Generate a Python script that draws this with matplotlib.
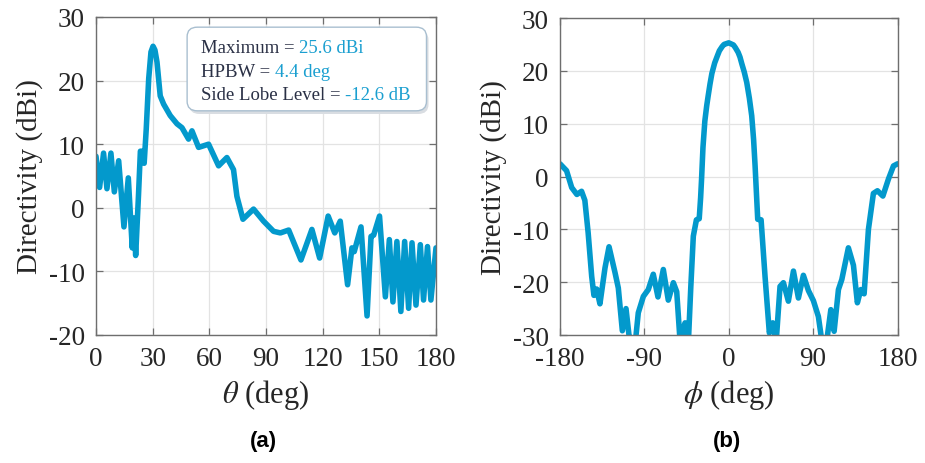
import matplotlib
matplotlib.use("Agg")
import matplotlib.pyplot as plt
from matplotlib.patches import FancyBboxPatch
from matplotlib.ticker import FuncFormatter

# ---------------- data ----------------
theta_a = [0, 1.9, 4, 5.8, 7.9, 9.7, 12, 14.8, 17.1, 19.2, 20.1, 21, 22.5, 23.5, 24.5,
           25.5, 26.6, 27.9, 29.1, 30.2, 31.2, 32.3, 34, 35.8, 39.3, 42.9, 45.5, 49,
           50.8, 54.3, 59.6, 64.9, 69.3, 72.8, 74.6, 77.8, 83.4, 88.7, 94, 97.6, 102,
           108.5, 114.3, 118.4, 122.9, 126.4, 129.3, 133.2, 135.5, 136.7, 140.3, 143.5,
           145.6, 147, 150.1, 153.2, 155.3, 157.2, 159.3, 161.4, 163.4, 165.5, 167.3,
           169.4, 171.7, 173.4, 175.5, 177.3, 180]
dir_a = [8.1, 3.2, 8.6, 3.0, 8.6, 2.5, 7.4, -3.0, 4.7, -6.3, -1.6, -7.5, 2.0, 8.9, 8.9,
         7.0, 12.4, 20.3, 24.5, 25.4, 24.8, 22.9, 17.6, 16.3, 14.5, 13.2, 12.6, 10.8,
         12.1, 9.5, 10.0, 6.6, 7.9, 6.0, 1.8, -1.8, -0.2, -2.1, -3.7, -3.95, -3.5,
         -8.2, -3.4, -7.9, -1.3, -3.95, -2.1, -12.1, -6.3, -6.9, -3.0, -17.0,
         -4.5, -4.3, -1.3, -14.0, -5.0, -14.8, -5.3, -16.3, -5.3, -15.8, -5.5,
         -15.3, -5.8, -14.5, -6.1, -14.5, -6.3]

phi_b = [-180, -173, -167.5, -162, -157, -153.5, -150, -146.2, -143.8, -140.9, -137.4,
         -132, -127.7, -121.3, -117.8, -113.5, -109.6, -106.5, -103, -100, -96.5, -91.1,
         -85.8, -80.5, -75.5, -69.8, -64.5, -59.1, -55.5, -52, -50.2, -46.6, -43.1,
         -40.5, -37.8, -34.5, -31.5, -30, -29, -27.5, -25.5, -23.5, -22, -20, -18, -15,
         -12, -10, -7, -5, 0, 5, 7, 10, 12, 14, 16.5, 19.2, 22, 24.5, 26.5, 28.1, 30.9,
         34.5, 38.7, 43.3, 47, 50.5, 54.7, 58.3,
         63.6, 69, 74.3, 79.6, 85, 90.3, 95.6, 99.2, 104.6, 108.9, 112.4, 117, 120.6,
         127.6, 133, 137.2, 140.9, 144.4, 149, 154.3, 158.6, 164.4, 170.3, 175.7, 180]
dir_b = [2.4, 1.1, -2.1, -3.4, -2.8, -4.5, -10.6, -18.9, -22.5, -21.3, -24.1,
         -17.3, -13.3, -18.2, -21.1, -29.2, -25.0, -29.9, -32, -32, -25.8, -22.7,
         -21.4, -18.5, -22.8, -17.6, -23.4, -20.1, -21.8, -31, -29.6, -27.7, -31.5,
         -21, -11.3, -8.2, -8.0, -4, -0.5, 5.5, 10.5, 13.4, 15.2, 17.5, 19.5, 21.5,
         22.9, 23.8, 24.6, 25, 25.3, 24.9, 24.4, 23.5, 22.6, 21.3, 19.8, 17.8, 14.8,
         11.5, 7.0, 2, -8.1, -8.2, -18.9, -29.6, -27.7, -31.5,
         -20.8, -20.1, -23.6, -17.9, -23, -18.7, -21.6, -23.5, -26.5, -31, -31,
         -25.2, -29.3, -21.4, -19.5, -13.5, -16.8, -23.9, -21.4, -22.2, -10, -3.2,
         -2.7, -3.7, -0.5, 2.0, 2.4]

xticks_a = [0, 30, 60, 90, 120, 150, 180]
yticks_a = [-20, -10, 0, 10, 20, 30]
xticks_b = [-180, -90, 0, 90, 180]
yticks_b = [-30, -20, -10, 0, 10, 20, 30]

info_labels = ["Maximum = ", "HPBW = ", "Side Lobe Level = "]
info_values = ["25.6 dBi", "4.4 deg", "-12.6 dB"]

# ---------------- style ----------------
plt.rcParams['font.family'] = ['Liberation Serif', 'DejaVu Serif']
plt.rcParams['mathtext.fontset'] = 'stix'

LINE = '#0399CC'
TXT = '#262626'
W, H = 925, 464
fig = plt.figure(figsize=(W / 100, H / 100), dpi=100)

def px_axes(x0, x1, y0, y1):
    return fig.add_axes([x0 / W, 1 - y1 / H, (x1 - x0) / W, (y1 - y0) / H])

ax1 = px_axes(96, 436, 18, 336)
ax2 = px_axes(560, 897.5, 19, 336)

fmt = FuncFormatter(lambda v, p: f"{v:g}".replace('\u2212', '-'))

for ax in (ax1, ax2):
    ax.grid(True, color='#e3e3e3', lw=0.9)
    ax.set_axisbelow(True)
    for s in ax.spines.values():
        s.set_color('#6e6e6e')
        s.set_linewidth(1.0)
    ax.tick_params(direction='in', top=True, right=True, length=5, width=0.9,
                   color='#6e6e6e', labelsize=19.5, labelcolor=TXT, pad=8)
    ax.xaxis.set_major_formatter(fmt)
    ax.yaxis.set_major_formatter(fmt)

ax1.plot(theta_a, dir_a, color=LINE, lw=4.0, solid_joinstyle='round',
         solid_capstyle='round')
ax1.set_xlim(0, 180)
ax1.set_ylim(-20, 30)
ax1.set_xticks(xticks_a)
ax1.set_yticks(yticks_a)
ax1.set_xlabel(r"$\theta$ (deg)", fontsize=22, color=TXT, labelpad=4)
ax1.set_ylabel("Directivity (dBi)", fontsize=21, color=TXT, labelpad=4)

ax2.plot(phi_b, dir_b, color=LINE, lw=4.0, solid_joinstyle='round',
         solid_capstyle='round')
ax2.set_xlim(-180, 180)
ax2.set_ylim(-30, 30)
ax2.set_xticks(xticks_b)
ax2.set_yticks(yticks_b)
ax2.set_xlabel(r"$\phi$ (deg)", fontsize=22, color=TXT, labelpad=4)
ax2.set_ylabel("Directivity (dBi)", fontsize=21, color=TXT, labelpad=4)

# info box
bx0, bx1 = 0.268, 0.972
by0, by1 = 0.705, 0.968
shadow = FancyBboxPatch((bx0 + 0.006, by0 - 0.01), bx1 - bx0, by1 - by0,
                        boxstyle="round,pad=0,rounding_size=0.03",
                        transform=ax1.transAxes, facecolor='#d9dde2',
                        edgecolor='none', zorder=4)
box = FancyBboxPatch((bx0, by0), bx1 - bx0, by1 - by0,
                     boxstyle="round,pad=0,rounding_size=0.03",
                     transform=ax1.transAxes, facecolor='white',
                     edgecolor='#a9bfd0', lw=1.0, zorder=5)
ax1.add_patch(shadow)
ax1.add_patch(box)

ys = [0.905, 0.830, 0.757]
for lab, val, y in zip(info_labels, info_values, ys):
    t = ax1.text(0.308, y, lab, transform=ax1.transAxes, fontsize=13.5,
                 color='#2a3045', va='center', ha='left', zorder=6)
    ax1.annotate(val, xy=(1, 0), xycoords=t, xytext=(0, 0),
                 textcoords='offset points', fontsize=13.5, color='#1a9fd0',
                 va='bottom', ha='left', zorder=6)

fig.text(263 / W, 1 - 441 / H, "(a)", fontsize=16, fontweight='bold',
         family='Liberation Sans', ha='center', va='center', color='black')
fig.text(727 / W, 1 - 441 / H, "(b)", fontsize=16, fontweight='bold',
         family='Liberation Sans', ha='center', va='center', color='black')

fig.savefig("out.png", dpi=100)
